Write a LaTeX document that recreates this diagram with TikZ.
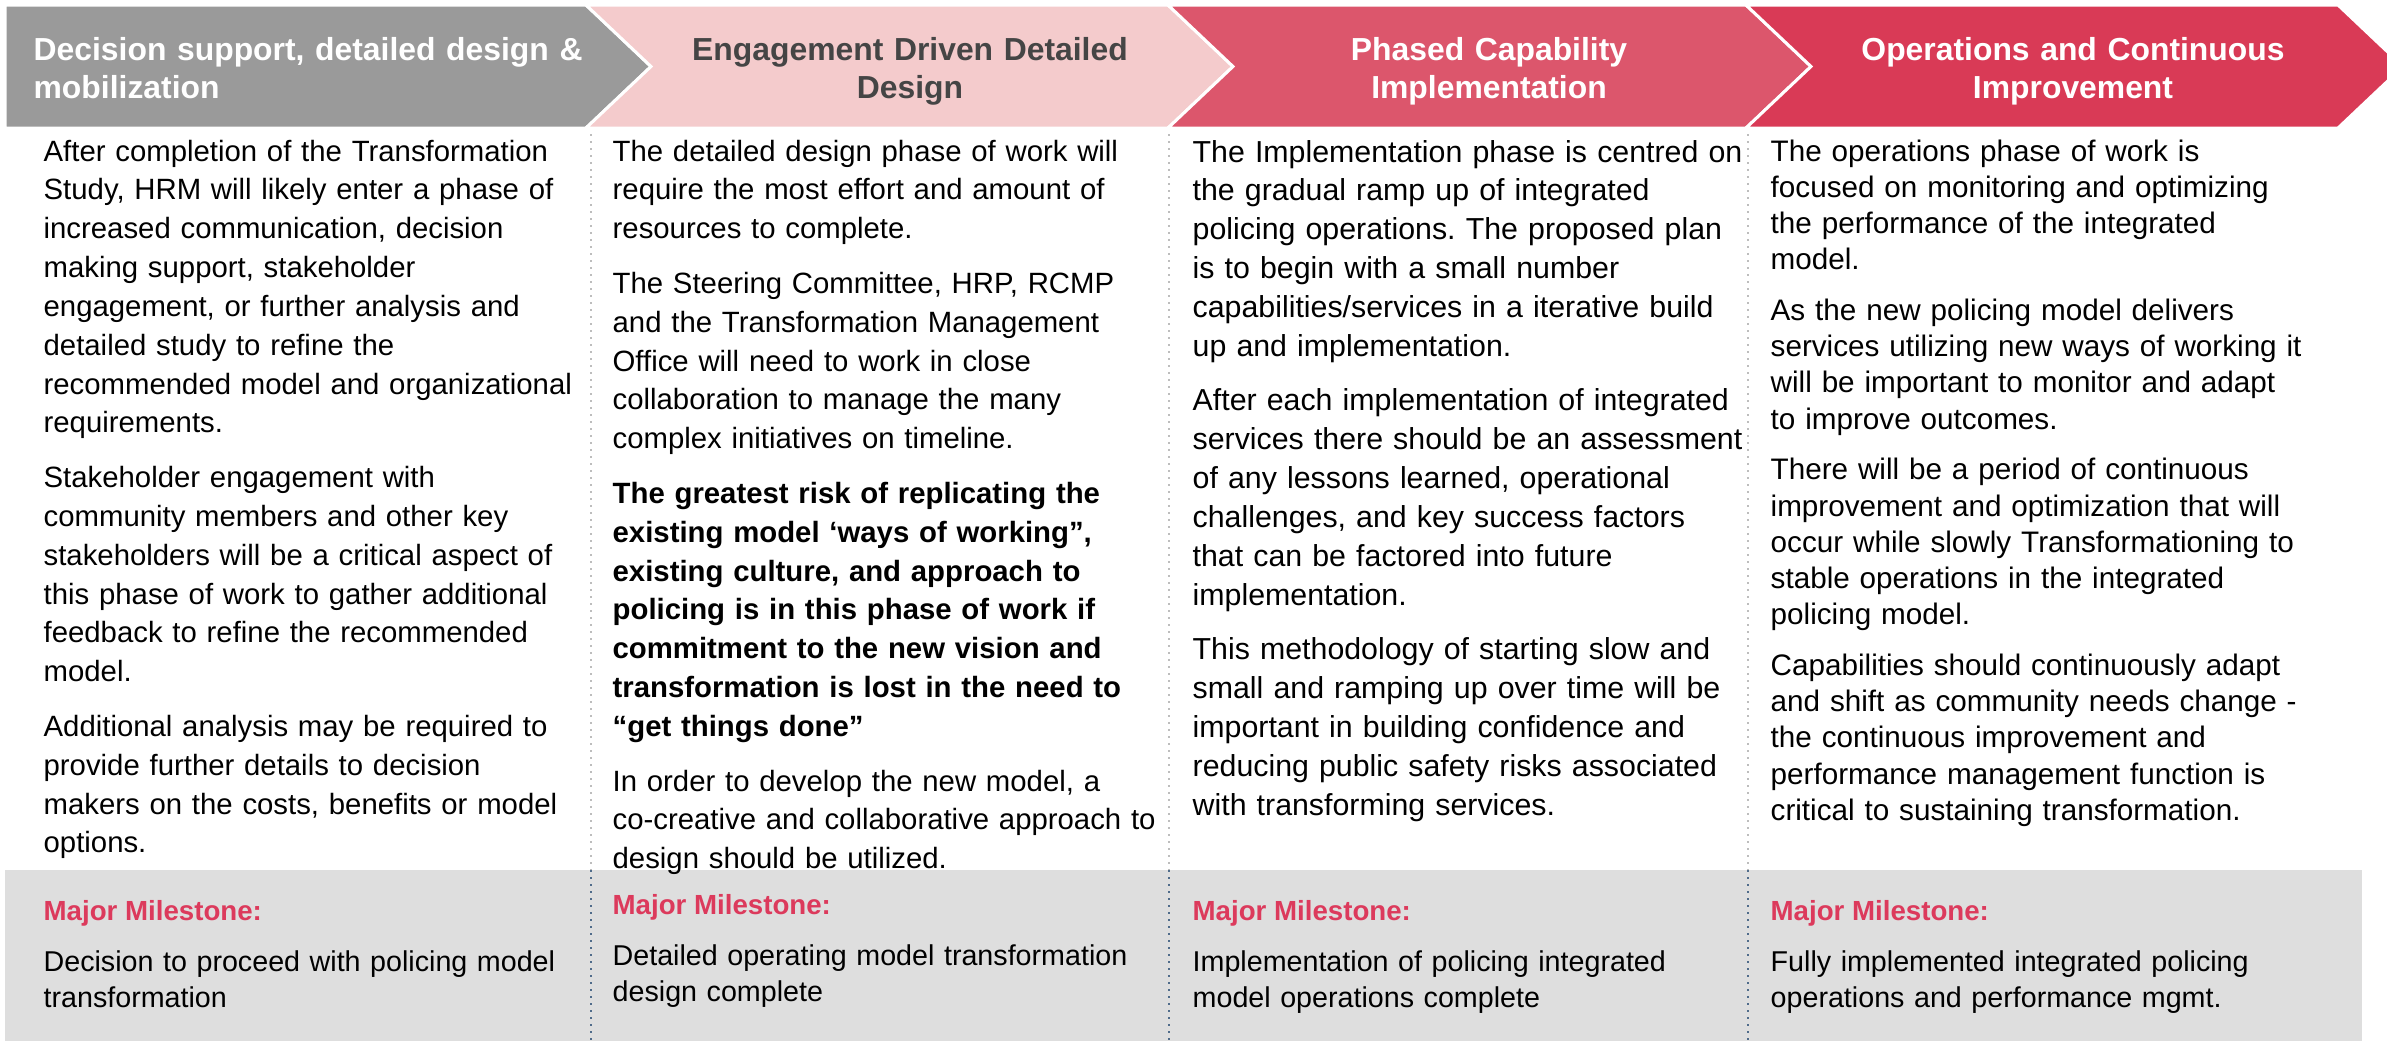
\documentclass[tikz,border=0pt]{standalone}
\usepackage{fontspec}
\setmainfont{Liberation Sans}
\usepackage{tikz}
\usetikzlibrary{positioning}
\frenchspacing

\definecolor{phgrey}{HTML}{9A9A9A}
\definecolor{phpink}{HTML}{F4CBCC}
\definecolor{phrose}{HTML}{DC566C}
\definecolor{phred}{HTML}{D93A56}
\definecolor{hdark}{HTML}{454545}
\definecolor{msband}{HTML}{DEDEDE}
\definecolor{msred}{HTML}{DC3A5C}
\definecolor{seplight}{HTML}{BDBDBD}
\definecolor{sepblue}{HTML}{4F6B8A}

\begin{document}
\begin{tikzpicture}[
  x=0.3pt,y=-0.3pt,
  hd/.style={font=\fontsize{9.56}{11.4}\selectfont\bfseries,text width=170pt,
    align=center,inner sep=0pt,anchor=base,text=white},
  body/.style={font=\fontsize{8.8}{11.65}\selectfont,text width=185pt,
    align=left,inner sep=0pt,anchor=base west},
  bodywide/.style={body,font=\fontsize{9.1}{11.65}\selectfont},
  bodytight/.style={body,font=\fontsize{8.9}{10.87}\selectfont},
  mslabel/.style={font=\fontsize{8.3}{10}\selectfont\bfseries,text=msred,
    inner sep=0pt,anchor=base west},
  mstext/.style={font=\fontsize{8.6}{10.95}\selectfont,text width=175pt,
    align=left,inner sep=0pt,anchor=base west},
  sepline/.style={seplight,line width=0.6pt,dash pattern=on 0.6pt off 1.5pt},
  msdots/.style={sepblue}]
  \useasboundingbox (0,0) rectangle (2387,1041);

  % phase chevrons
  \begin{scope}
    \clip (0,0) rectangle (2387,1041);
    \foreach \xa/\xb/\dn/\col in {5/586/0/phgrey,586/1168/65/phpink,1168/1746/65/phrose,1746/2338/65/phred}
      \filldraw[fill=\col,draw=white,line width=0.9pt]
        (\xa,5) -- (\xb,5) -- ({\xb+65},66.5) -- (\xb,128) -- (\xa,128) -- ({\xa+\dn},66.5) -- cycle;
  \end{scope}

  \node[hd,anchor=base west,align=left] (h1) at (33,60) {Decision support, detailed design \&\\mobilization};
  \node[hd,text=hdark] (h2) at (910,60) {Engagement Driven Detailed\\Design};
  \node[hd] (h3) at (1489,60) {Phased Capability\\Implementation};
  \node[hd] (h4) at (2073,60) {Operations and Continuous\\Improvement};

  % milestone band and column rules
  \fill[msband] (5,870) rectangle (2362,1041);
  \foreach \x in {591,1169,1748} {
    \draw[sepline] (\x,134) -- (\x,870);
    \draw[sepline,msdots] (\x,870) -- (\x,1041);
  }

  % column texts
  \node[body] (b1) at (43,161) {After completion of the Transformation\\
    Study, HRM will likely enter a phase of\\
    increased communication, decision\\
    making support, stakeholder\\
    engagement, or further analysis and\\
    detailed study to refine the\\
    recommended model and organizational\\
    requirements.\\[4.75pt]
    Stakeholder engagement with\\
    community members and other key\\
    stakeholders will be a critical aspect of\\
    this phase of work to gather additional\\
    feedback to refine the recommended\\
    model.\\[4.75pt]
    Additional analysis may be required to\\
    provide further details to decision\\
    makers on the costs, benefits or model\\
    options.};
  \node[body] (b2) at (612,161) {The detailed design phase of work will\\
    require the most effort and amount of\\
    resources to complete.\\[4.75pt]
    The Steering Committee, HRP, RCMP\\
    and the Transformation Management\\
    Office will need to work in close\\
    collaboration to manage the many\\
    complex initiatives on timeline.\\[4.75pt]
    {\bfseries The greatest risk of replicating the\\
    existing model ‘ways of working”,\\
    existing culture, and approach to\\
    policing is in this phase of work if\\
    commitment to the new vision and\\
    transformation is lost in the need to\\
    “get things done”}\\[4.75pt]
    In order to develop the new model, a\\
    co-creative and collaborative approach to\\
    design should be utilized.};
  \node[bodywide] (b3) at (1192,162) {The Implementation phase is centred on\\
    the gradual ramp up of integrated\\
    policing operations. The proposed plan\\
    is to begin with a small number\\
    capabilities/services in a iterative build\\
    up and implementation.\\[4.75pt]
    After each implementation of integrated\\
    services there should be an assessment\\
    of any lessons learned, operational\\
    challenges, and key success factors\\
    that can be factored into future\\
    implementation.\\[4.75pt]
    This methodology of starting slow and\\
    small and ramping up over time will be\\
    important in building confidence and\\
    reducing public safety risks associated\\
    with transforming services.};
  \node[bodytight] (b4) at (1770,161) {The operations phase of work is\\
    focused on monitoring and optimizing\\
    the performance of the integrated\\
    model.\\[4.34pt]
    As the new policing model delivers\\
    services utilizing new ways of working it\\
    will be important to monitor and adapt\\
    to improve outcomes.\\[4.34pt]
    There will be a period of continuous\\
    improvement and optimization that will\\
    occur while slowly Transformationing to\\
    stable operations in the integrated\\
    policing model.\\[4.34pt]
    Capabilities should continuously adapt\\
    and shift as community needs change -\\
    the continuous improvement and\\
    performance management function is\\
    critical to sustaining transformation.};

  % milestones
  \node[mslabel] (m1) at (43,920) {Major Milestone:};
  \node[mslabel] (m2) at (612,914) {Major Milestone:};
  \node[mslabel] (m3) at (1192,920) {Major Milestone:};
  \node[mslabel] (m4) at (1770,920) {Major Milestone:};
  \node[mstext] (t1) at (43,971) {Decision to proceed with policing model\\transformation};
  \node[mstext] (t2) at (612,965) {Detailed operating model transformation\\design complete};
  \node[mstext] (t3) at (1192,971) {Implementation of policing integrated\\model operations complete};
  \node[mstext] (t4) at (1770,971) {Fully implemented integrated policing\\operations and performance mgmt.};
\end{tikzpicture}
\end{document}
